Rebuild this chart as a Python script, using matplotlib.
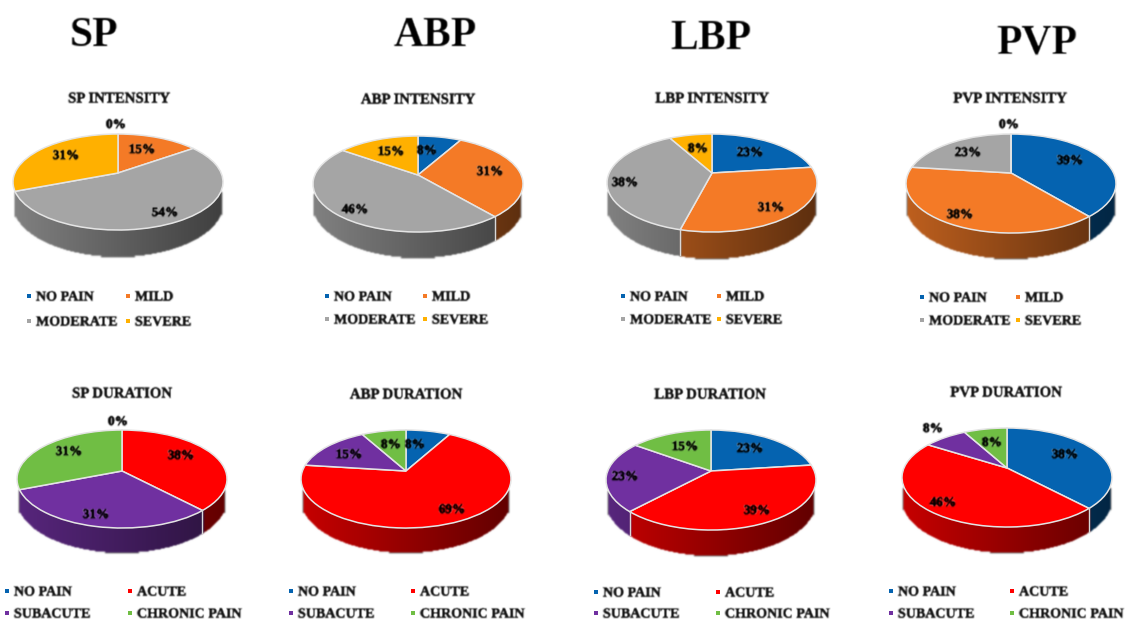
import matplotlib
matplotlib.use('Agg')
import matplotlib.pyplot as plt
import matplotlib.patheffects as pe
import numpy as np
from matplotlib.collections import PolyCollection
from matplotlib.transforms import Transform

BLUE = '#0563B0'
ORANGE = '#F47A26'
GREY = '#A5A5A5'
GOLD = '#FFB000'
RED = '#FF0000'
PURPLE = '#7030A0'
GREEN = '#70BE44'

INTENSITY_CATS = ['NO PAIN', 'MILD', 'MODERATE', 'SEVERE']
DURATION_CATS = ['NO PAIN', 'ACUTE', 'SUBACUTE', 'CHRONIC PAIN']
INTENSITY_COLORS = [BLUE, ORANGE, GREY, GOLD]
DURATION_COLORS = [BLUE, RED, PURPLE, GREEN]

HEADERS = ['SP', 'ABP', 'LBP', 'PVP']

SP_INTENSITY = [0, 15, 54, 31]
ABP_INTENSITY = [8, 31, 46, 15]
LBP_INTENSITY = [23, 31, 38, 8]
PVP_INTENSITY = [39, 38, 23, 0]
SP_DURATION = [0, 38, 31, 31]
ABP_DURATION = [8, 69, 15, 8]
LBP_DURATION = [23, 39, 23, 15]
PVP_DURATION = [38, 46, 8, 8]

# everything below is layout, in image pixels
HEADER_POS = [(94, 36), (435, 36), (711, 39), (1037, 43)]
# apex x, apex y, half width, top, bottom of lid, bottom of wall
PIE_BOXES = [
    (118, 173, 105, 134, 230, 256),
    (418, 175, 105, 136, 232, 257),
    (712, 173, 105, 134, 232, 258),
    (1011, 173, 105, 134, 233, 258),
    (122, 471, 105, 430, 528, 552),
    (406, 471, 105, 430, 528, 552),
    (711, 471, 105, 430, 530, 555),
    (1007, 468, 105, 428, 527, 552),
]
TITLE_POS = [(119, 99), (418, 100), (712, 99), (1010, 99),
             (122, 394), (406, 395), (710, 395), (1006, 393)]
LABEL_POS = [
    [(116, 125), (142, 150), (165, 213), (66, 156)],
    [(427, 151), (490, 172), (355, 210), (391, 152)],
    [(750, 153), (771, 208), (625, 183), (698, 149)],
    [(1070, 161), (960, 215), (968, 153), (1009, 125)],
    [(118, 422), (181, 456), (96, 515), (69, 452)],
    [(415, 445), (452, 510), (349, 455), (391, 445)],
    [(750, 449), (757, 511), (625, 477), (685, 447)],
    [(1065, 455), (943, 503), (933, 429), (992, 443)],
]
# marker x col 1, marker x col 2, y row 1, y row 2
LEGEND_POS = [
    (29, 128, 297, 322),
    (327, 425, 297, 320),
    (623, 719, 297, 320),
    (922, 1018, 298, 321),
    (7, 130, 592, 614),
    (291, 413, 592, 614),
    (596, 718, 593, 614),
    (891, 1012, 592, 614),
]

plt.rcParams['font.family'] = ['Liberation Serif', 'DejaVu Serif']


class TiltTransform(Transform):
    # maps the unit pie to a disc seen from above, apex stays off centre
    input_dims = 2
    output_dims = 2
    is_separable = False
    has_inverse = False

    def __init__(self, cx, cy, a, s, k):
        super().__init__()
        self.cx, self.cy, self.a, self.s, self.k = cx, cy, a, s, k

    def transform_non_affine(self, values):
        values = np.asarray(values, dtype=float)
        w = 1 + self.k * values[:, 1]
        return np.column_stack((self.cx + self.a * values[:, 0] / w,
                                self.cy - self.s * values[:, 1] / w))


def soften(img, dpi):
    # the reference is a blurry scan, take the hard edge off
    pad = 3
    out = np.pad(img, ((pad, pad), (pad, pad), (0, 0)))
    for axis in (0, 1):
        out = 0.56 * out + 0.22 * np.roll(out, 1, axis) + 0.22 * np.roll(out, -1, axis)
    return out, -pad, -pad


def draw_wall(ax, values, colors, box):
    cx, cy, half, top, lid, bottom = box
    up, down = cy - top, lid - cy
    k = (down - up) / (down + up)
    s = up * (1 + k)
    a = half * np.sqrt(1 - k * k)
    tilt = TiltTransform(cx, cy, a, s, k)
    depth_front = bottom - lid
    edges = 90 - 3.6 * np.concatenate(([0], np.cumsum(values)))
    quads, quad_colors, seams = [], [], []
    for i, color in enumerate(colors):
        if values[i] == 0:
            continue
        thetas = np.radians(np.linspace(edges[i], edges[i + 1], int(values[i] * 8) + 2))
        rim = np.column_stack((np.cos(thetas), np.sin(thetas)))
        pts = tilt.transform_non_affine(rim)
        drop = depth_front * (0.72 - 0.28 * rim[:, 1])
        base = np.array(matplotlib.colors.to_rgb(color))
        for j in range(len(thetas) - 1):
            if rim[j, 1] > -0.4 and rim[j + 1, 1] > -0.4:
                continue
            xn = (pts[j, 0] - cx) / half
            shade = 0.58 - 0.2 * xn
            quads.append([pts[j], pts[j + 1],
                          pts[j + 1] + (0, drop[j + 1]), pts[j] + (0, drop[j])])
            quad_colors.append(base * shade)
        if rim[-1, 1] < -0.4:
            seams.append((pts[-1], drop[-1]))
    walls = PolyCollection(quads, facecolors=quad_colors, edgecolors=quad_colors,
                           linewidths=1.0, antialiaseds=False)
    walls.set_agg_filter(soften)
    ax.add_collection(walls)
    for p, d in seams:
        ax.plot([p[0], p[0]], [p[1], p[1] + d], color='#D8D8D8', lw=1)
    return tilt


def draw_pie(ax, values, colors, box):
    tilt = draw_wall(ax, values, colors, box)
    wedges, _ = ax.pie(values, colors=colors, startangle=90, counterclock=False,
                       radius=1, frame=True,
                       wedgeprops=dict(edgecolor='#E4E4E4', linewidth=1.1))
    for w in wedges:
        w.set_transform(tilt + ax.transData)


def heavy(text, width=0.35):
    text.set_path_effects([pe.withStroke(linewidth=width, foreground=text.get_color())])
    text.set_agg_filter(soften)


def draw_legend(ax, cats, colors, pos):
    x1, x2, y1, y2 = pos
    spots = [(x1, y1), (x2, y1), (x1, y2), (x2, y2)]
    for cat, color, (x, y) in zip(cats, colors, spots):
        ax.plot([x], [y - 1], 's', color=color, ms=3.2, mew=0)
        t = ax.text(x + 7, y, cat, fontsize=10.1, fontweight='bold', color='#111111',
                    ha='left', va='center')
        heavy(t)


def main():
    fig = plt.figure(figsize=(11.26, 6.21), dpi=100)
    ax = fig.add_axes([0, 0, 1, 1])

    all_values = [SP_INTENSITY, ABP_INTENSITY, LBP_INTENSITY, PVP_INTENSITY,
                  SP_DURATION, ABP_DURATION, LBP_DURATION, PVP_DURATION]

    for name, (x, y) in zip(HEADERS, HEADER_POS):
        t = ax.text(x, y, name, fontsize=30, fontweight='bold', ha='center', va='center', color='black')
        t.set_agg_filter(soften)

    for n, values in enumerate(all_values):
        is_intensity = n < 4
        colors = INTENSITY_COLORS if is_intensity else DURATION_COLORS
        cats = INTENSITY_CATS if is_intensity else DURATION_CATS
        kind = 'INTENSITY' if is_intensity else 'DURATION'
        draw_pie(ax, values, colors, PIE_BOXES[n])
        x, y = TITLE_POS[n]
        t = ax.text(x, y, f'{HEADERS[n % 4]} {kind}', fontsize=10.7, fontweight='bold',
                    ha='center', va='center', color='#111111')
        heavy(t)
        for v, (lx, ly) in zip(values, LABEL_POS[n]):
            t = ax.text(lx, ly, f'{v}%', fontsize=9.5, fontweight='bold',
                        ha='center', va='center', color='black')
            heavy(t, 0.5)
        draw_legend(ax, cats, colors, LEGEND_POS[n])

    ax.set_xlim(0, 1126)
    ax.set_ylim(621, 0)
    ax.set_aspect('auto')
    ax.axis('off')
    fig.savefig('out.png', dpi=100, facecolor='white')


if __name__ == "__main__":
    main()
